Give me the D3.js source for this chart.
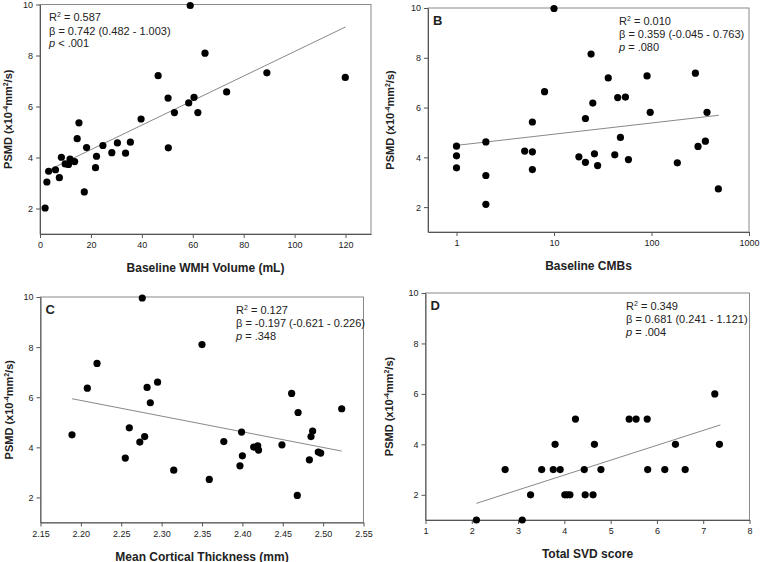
<!DOCTYPE html>
<html><head><meta charset="utf-8">
<script src="https://cdn.jsdelivr.net/npm/d3@7"></script>
<style>
body{margin:0;background:#fff;}
svg{display:block;font-family:Arial,"Liberation Sans",sans-serif;}
</style></head>
<body>
<svg id="chart" width="760" height="562"></svg>
<script>
// ---------- DATA ----------
const wmhVolume = [59, 64.8, 46.4, 89.1, 119.9, 73.3, 50.3, 60.5, 58.4, 52.8, 62.0, 39.7, 15.3, 14.6, 18.3, 24.7, 30.4, 35.5, 50.4, 28.2, 33.6, 22.2, 8.4, 11.8, 13.6, 9.9, 11.2, 21.8, 6.1, 3.4, 7.6, 2.7, 17.4, 2.0];
const psmdA = [9.96, 8.09, 7.21, 7.32, 7.14, 6.57, 6.33, 6.36, 6.14, 5.76, 5.76, 5.51, 5.36, 4.74, 4.39, 4.47, 4.57, 4.60, 4.38, 4.19, 4.17, 4.05, 4.01, 3.94, 3.84, 3.75, 3.73, 3.60, 3.52, 3.46, 3.21, 3.04, 2.65, 2.02];
const fitA = {x: [2, 120], y: [3.44, 9.12]};
const statsA = ["0.587", "0.742 (0.482 - 1.003)", "< .001"];

const cmbs = [10, 24, 36, 90, 282, 8, 25, 45, 54, 21, 97, 371, 6, 48, 1, 2, 5, 6, 26, 357, 300, 1, 18, 42, 21, 58, 28, 184, 1, 6, 2, 2, 485];
const psmdB = [9.98, 8.15, 7.19, 7.27, 7.38, 6.64, 6.18, 6.40, 6.42, 5.56, 5.81, 5.81, 5.42, 4.80, 4.45, 4.62, 4.25, 4.22, 4.14, 4.65, 4.44, 4.06, 4.02, 4.10, 3.80, 3.91, 3.67, 3.78, 3.58, 3.51, 3.27, 2.11, 2.73];
const fitB = {x: [1, 490], y: [4.48, 5.69]};
const statsB = ["0.010", "0.359 (-0.045 - 0.763)", "= .080"];

const thickness = [2.276, 2.350, 2.220, 2.208, 2.282, 2.295, 2.286, 2.461, 2.469, 2.523, 2.189, 2.260, 2.279, 2.273, 2.377, 2.399, 2.400, 2.397, 2.414, 2.419, 2.420, 2.449, 2.487, 2.485, 2.483, 2.494, 2.497, 2.468, 2.255, 2.315, 2.359];
const psmdC = [9.96, 8.10, 7.35, 6.36, 6.39, 6.60, 5.78, 6.15, 5.39, 5.54, 4.50, 4.78, 4.43, 4.21, 4.23, 4.61, 3.66, 3.26, 4.01, 4.06, 3.89, 4.10, 4.65, 4.43, 3.50, 3.81, 3.77, 2.08, 3.57, 3.09, 2.72];
const fitC = {x: [2.189, 2.523], y: [5.94, 3.85]};
const statsC = ["0.127", "-0.197 (-0.621 - 0.226)", "= .348"];

const svdScore = [2.10, 3.09, 2.72, 3.27, 3.51, 3.76, 3.80, 3.91, 4.01, 4.06, 4.12, 4.24, 4.43, 4.45, 4.62, 4.65, 4.79, 5.40, 5.55, 5.79, 5.80, 6.17, 6.40, 6.61, 7.25, 7.35];
const psmdD = [1, 1, 3, 2, 3, 3, 4, 3, 2, 2, 2, 5, 3, 2, 2, 4, 3, 5, 5, 5, 3, 3, 4, 3, 6, 4];
const fitD = {x: [2.10, 7.37], y: [1.66, 4.77]};
const statsD = ["0.349", "0.681 (0.241 - 1.121)", "= .004"];

const yTicks = [2, 4, 6, 8, 10];
const xTicksA = [0, 20, 40, 60, 80, 100, 120];
const xTicksB = [1, 10, 100, 1000];
const xTicksC = [2.15, 2.20, 2.25, 2.30, 2.35, 2.40, 2.45, 2.50, 2.55];
const xTicksD = [1, 2, 3, 4, 5, 6, 7, 8];

// ---------- LAYOUT ----------
const panels = [
  {label: "", x: wmhVolume, y: psmdA, fit: fitA, stats: statsA, xTicks: xTicksA, fmt: d3.format("d"),
   xTitle: "Baseline WMH Volume (mL)", box: [40, 371, 4.5, 234], xd: [0, 130], log: false, statX: 49, titleX: 8},
  {label: "B", x: cmbs, y: psmdB, fit: fitB, stats: statsB, xTicks: xTicksB, fmt: d3.format("d"),
   xTitle: "Baseline CMBs", box: [428, 749, 8, 232], xd: [0.51, 1000], log: true, statX: 619, titleX: 390},
  {label: "C", x: thickness, y: psmdC, fit: fitC, stats: statsC, xTicks: xTicksC, fmt: d3.format(".2f"),
   xTitle: "Mean Cortical Thickness (mm)", box: [40.5, 363.5, 297, 522.5], xd: [2.15, 2.55], log: false, statX: 236, titleX: 9},
  {label: "D", x: svdScore, y: psmdD, fit: fitD, stats: statsD, xTicks: xTicksD, fmt: d3.format("d"),
   xTitle: "Total SVD score", box: [425.5, 749.5, 293, 520], xd: [1, 8], log: false, statX: 626, titleX: 389}
];

const svg = d3.select("#chart");
const axisCol = "#555", frameCol = "#8a8a8a", textCol = "#222";

panels.forEach(p => {
  const [L, R, T, B] = p.box;
  const x = (p.log ? d3.scaleLog() : d3.scaleLinear()).domain(p.xd).range([L, R]);
  const y = d3.scaleLinear().domain([1, 10]).range([B, T]);
  const g = svg.append("g");

  // frame
  g.append("rect").attr("x", L).attr("y", T).attr("width", R - L).attr("height", B - T)
    .attr("fill", "none").attr("stroke", frameCol).attr("stroke-width", 1);

  // axes
  const xa = g.append("g").attr("transform", `translate(0,${B})`)
    .call(d3.axisBottom(x).tickValues(p.xTicks).tickFormat(p.fmt).tickSize(4).tickSizeOuter(0).tickPadding(4));
  const ya = g.append("g").attr("transform", `translate(${L},0)`)
    .call(d3.axisLeft(y).tickValues(yTicks).tickSize(4).tickSizeOuter(0).tickPadding(3));
  [xa, ya].forEach(a => {
    a.select(".domain").attr("stroke", axisCol);
    a.selectAll(".tick line").attr("stroke", axisCol);
    a.selectAll(".tick text").attr("fill", textCol).style("font-size", "9px").style("font-family", "Arial, 'Liberation Sans', sans-serif");
  });

  // regression line
  g.append("line")
    .attr("x1", x(p.fit.x[0])).attr("y1", y(p.fit.y[0]))
    .attr("x2", x(p.fit.x[1])).attr("y2", y(p.fit.y[1]))
    .attr("stroke", "#7a7a7a").attr("stroke-width", 0.9);

  // points
  g.selectAll("circle.pt").data(p.x.map((v, i) => [v, p.y[i]])).enter().append("circle")
    .attr("cx", d => x(d[0])).attr("cy", d => y(d[1])).attr("r", 3.6).attr("fill", "#000");

  // panel label
  if (p.label) {
    g.append("text").attr("x", L + 5).attr("y", T + 17).attr("font-size", 13).attr("font-weight", "bold")
      .attr("fill", textCol).text(p.label);
  }

  // stats
  const st = g.append("g").attr("fill", textCol).attr("font-size", 11);
  const t1 = st.append("text").attr("x", p.statX).attr("y", T + 16.5);
  t1.append("tspan").text("R");
  t1.append("tspan").attr("dy", -4).attr("font-size", 7).text("2");
  t1.append("tspan").attr("dy", 4).text(" = " + p.stats[0]);
  st.append("text").attr("x", p.statX).attr("y", T + 30).text("β = " + p.stats[1]);
  const t3 = st.append("text").attr("x", p.statX).attr("y", T + 42.5);
  t3.append("tspan").attr("font-style", "italic").text("p");
  t3.append("tspan").text(" " + p.stats[2]);

  // x title
  g.append("text").attr("x", (L + R) / 2).attr("y", B + 38).attr("text-anchor", "middle")
    .attr("font-size", 12).attr("font-weight", "bold").attr("fill", textCol).text(p.xTitle);

  // y title
  const yt = g.append("text")
    .attr("transform", `translate(${p.titleX + 4},${(T + B) / 2}) rotate(-90)`)
    .attr("text-anchor", "middle").attr("font-size", 11).attr("font-weight", "bold").attr("fill", textCol);
  yt.append("tspan").text("PSMD (x10");
  yt.append("tspan").attr("dy", -4).attr("font-size", 7).text("-4");
  yt.append("tspan").attr("dy", 4).text("mm");
  yt.append("tspan").attr("dy", -4).attr("font-size", 7).text("2");
  yt.append("tspan").attr("dy", 4).text("/s)");
});
</script>
</body></html>
